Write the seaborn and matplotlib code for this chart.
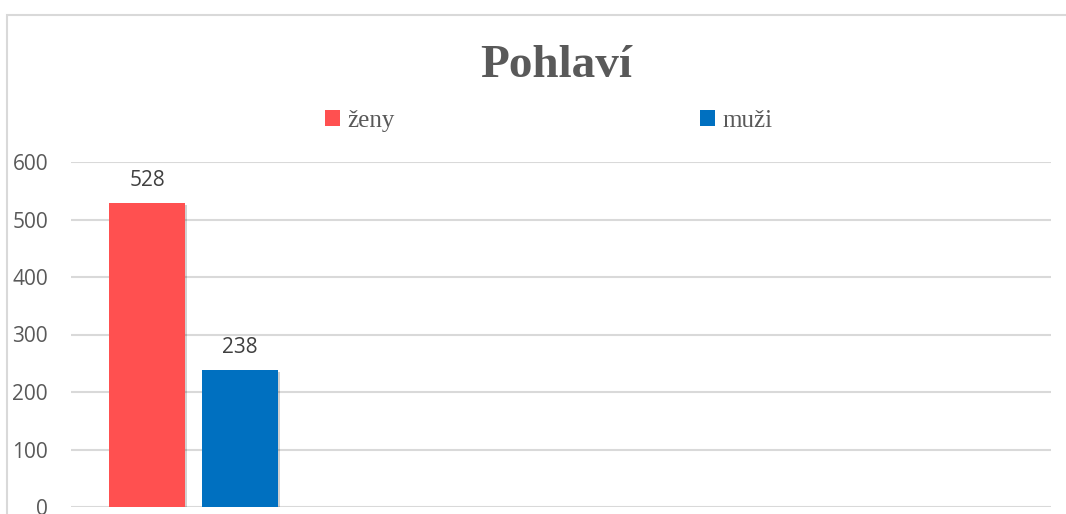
import matplotlib
matplotlib.use("Agg")
import matplotlib.pyplot as plt
import matplotlib.patheffects as pe
from matplotlib.patches import Rectangle
import seaborn as sns
import pandas as pd

# ---- data ----
categories = ["Pohlaví"]
series = ["ženy", "muži"]
values = [528, 238]
colors = ["#FF5050", "#0070C0"]
yticks = [0, 100, 200, 300, 400, 500, 600]

df = pd.DataFrame({"kat": categories * len(series), "pohlavi": series, "pocet": values})

sns.set_theme(style="white")
plt.rcParams["font.family"] = ["Open Sans", "DejaVu Sans"]

W, H = 1066, 514
fig = plt.figure(figsize=(W / 100, H / 100), dpi=100)
ax = fig.add_axes([71 / W, 1 - 507 / H, 980 / W, (507 - 162) / H])

sns.barplot(data=df, x="kat", y="pocet", hue="pohlavi", hue_order=series,
            palette=colors, width=0.8, gap=0.183, saturation=1, ax=ax,
            legend=False, errorbar=None)

shadow = [pe.SimplePatchShadow(offset=(1.5, -1.5), shadow_rgbFace="black", alpha=0.18),
          pe.Normal()]
for p in ax.patches:
    p.set_edgecolor("none")
    p.set_path_effects(shadow)

for c in ax.containers:
    ax.bar_label(c, labels=[f"{v:.0f}" for v in c.datavalues], padding=9,
                 fontsize=15, color="#404040")

ax.set_ylim(0, 600)
ax.set_xlim(-0.527, 3.688)
ax.set_yticks(yticks)
ax.set_yticklabels([str(t) for t in yticks], fontsize=15, color="#595959")
ax.set_xticks([])
ax.set_xlabel("")
ax.set_ylabel("")
for s in ax.spines.values():
    s.set_visible(False)
ax.yaxis.grid(True, color="#D9D9D9", linewidth=1.5)
ax.set_axisbelow(True)
ax.tick_params(axis="y", length=0, pad=16.5)

# chart border
fig.patches.append(Rectangle((7 / W, -0.1), 1.2, 1 - 15 / H + 0.1,
                             transform=fig.transFigure, fill=False,
                             edgecolor="#D9D9D9", linewidth=1.5))

# title
fig.text(556 / W, 1 - 66 / H, "Pohlaví", ha="center", va="center",
         fontsize=34, fontweight="bold", color="#595959",
         family=["Liberation Serif", "DejaVu Serif"])

# legend
handles = [Rectangle((0, 0), 1, 1, facecolor=c, edgecolor="none") for c in colors]
leg = fig.legend(handles, series, loc="center", bbox_to_anchor=(549 / W, 1 - 121 / H),
                 ncol=2, frameon=False, handlelength=0.6, handleheight=0.6,
                 handletextpad=0.3, columnspacing=12.2,
                 prop={"family": ["Liberation Serif", "DejaVu Serif"], "size": 18})
for t in leg.get_texts():
    t.set_color("#595959")

fig.savefig("out.png", dpi=100, facecolor="white")
